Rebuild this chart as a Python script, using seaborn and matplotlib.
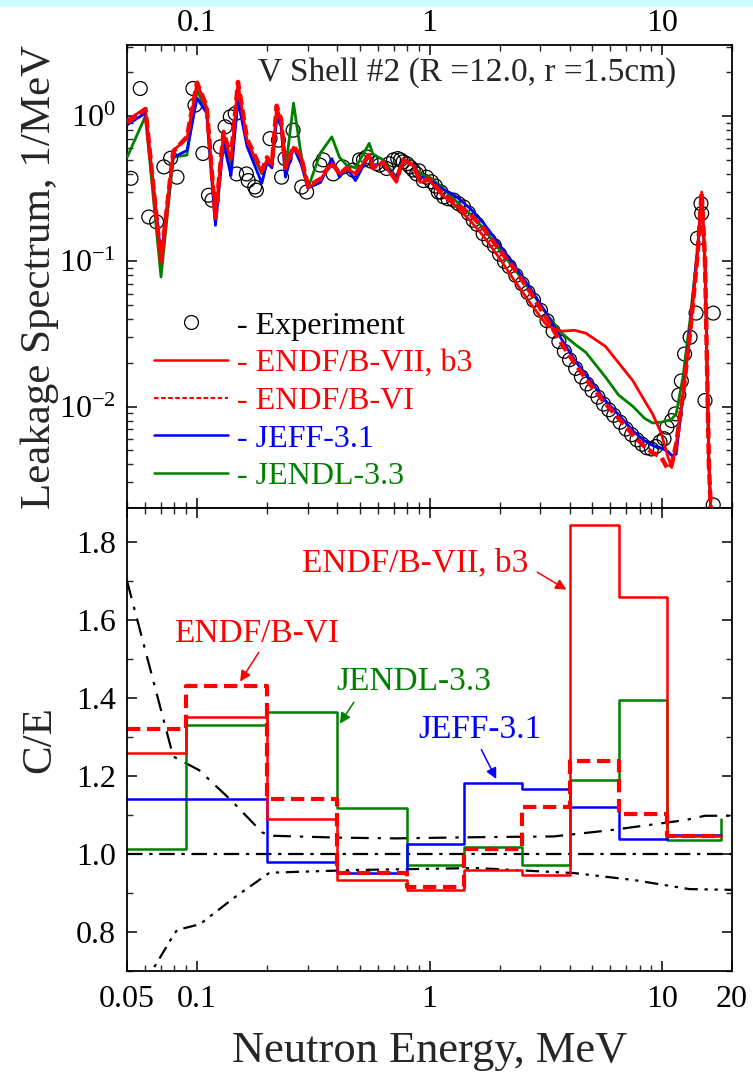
import numpy as np
import pandas as pd
import seaborn as sns
import matplotlib.pyplot as plt
from matplotlib.lines import Line2D
from matplotlib.patches import Rectangle
from matplotlib.ticker import LogLocator, NullFormatter, FixedLocator, MultipleLocator

# ---- leakage spectrum (top) ----
exp_e = [0.052, 0.057, 0.062, 0.067, 0.072, 0.077, 0.082, 0.096, 0.098, 0.106,
         0.112, 0.116, 0.126, 0.132, 0.139, 0.146, 0.148, 0.163, 0.166, 0.177,
         0.180, 0.206, 0.224, 0.231, 0.239, 0.259, 0.282, 0.296, 0.338, 0.349,
         0.385, 0.424, 0.469, 0.50, 0.52, 0.536, 0.56, 0.59, 0.61, 0.653, 0.67,
         0.70, 0.73, 0.75, 0.77, 0.80, 0.825, 0.85, 0.88, 0.90, 0.94, 0.97,
         1.02, 1.06, 1.09, 1.12, 1.15, 1.2, 1.27, 1.33, 1.40, 1.47, 1.54, 1.6,
         1.70, 1.8, 1.9, 2.0, 2.1, 2.2, 2.35, 2.5, 2.65, 2.8, 3.0, 3.2, 3.4,
         3.6, 3.8, 4.0, 4.25, 4.5, 4.75, 5.0, 5.3, 5.6, 5.9, 6.2, 6.6, 7.0,
         7.4, 7.8, 8.2, 8.6, 9.0, 9.4, 9.8, 10.2, 10.5, 11.0, 11.4, 11.8,
         12.1, 12.5, 13.2, 14.0, 14.2, 14.7, 14.8, 15.3, 16.6, 16.6]
exp_v = [0.373, 1.55, 0.202, 0.187, 0.447, 0.513, 0.38, 1.55, 1.19, 0.553,
         0.285, 0.264, 0.614, 0.844, 0.99, 1.04, 0.40, 0.40, 0.36, 0.325,
         0.309, 0.70, 0.683, 0.38, 0.51, 0.80, 0.325, 0.30, 0.46, 0.50,
         0.40, 0.447, 0.425, 0.50, 0.50, 0.524, 0.49, 0.472, 0.46, 0.436, 0.47,
         0.50, 0.51, 0.50, 0.485, 0.47, 0.447, 0.425, 0.40, 0.42, 0.36, 0.38,
         0.353, 0.33, 0.30, 0.30, 0.278, 0.27, 0.264, 0.25, 0.237, 0.215, 0.192, 0.18,
         0.155, 0.14, 0.128, 0.112, 0.10, 0.092, 0.08, 0.07, 0.061, 0.054, 0.046, 0.039, 0.033,
         0.028, 0.024, 0.021, 0.0183, 0.016, 0.0143, 0.0129, 0.0116, 0.0104, 0.0095, 0.0087, 0.0078, 0.0070,
         0.0064, 0.0059, 0.0055, 0.0052, 0.0051, 0.0053, 0.0057, 0.0060, 0.0072, 0.0080, 0.0089, 0.012,
         0.015, 0.023, 0.030, 0.044, 0.144, 0.25, 0.214, 0.011, 0.044, 0.0021]

calc_e = [0.05, 0.060, 0.070, 0.079, 0.0905, 0.100, 0.110, 0.120, 0.130, 0.140,
          0.150, 0.164, 0.190, 0.200, 0.210, 0.220, 0.230, 0.240, 0.260, 0.280,
          0.300, 0.340, 0.380, 0.410, 0.440, 0.480, 0.550, 0.570, 0.630, 0.720,
          0.770, 0.850, 0.910, 1.00, 1.12, 1.3, 1.5, 1.7, 2.0, 2.3, 2.7, 3.2,
          3.7, 4.2, 4.7, 5.7, 6.5, 7.5, 8.4, 9.1, 9.9, 10.6, 11.0, 11.5, 12.3,
          13.2, 14.2, 14.8, 15.3, 15.9, 16.5]
endf7 = [0.94, 1.13, 0.10, 0.58, 0.70, 1.69, 1.15, 0.21, 0.76, 0.50,
         1.69, 0.68, 0.41, 0.50, 0.46, 1.15, 0.94, 0.44, 0.61, 0.52,
         0.32, 0.37, 0.47, 0.40, 0.44, 0.40, 0.54, 0.44, 0.48, 0.35,
         0.50, 0.46, 0.35, 0.36, 0.29, 0.24, 0.19, 0.15, 0.105, 0.075, 0.052, 0.036,
         0.033, 0.0335, 0.032, 0.026, 0.020, 0.015, 0.011, 0.0089, 0.0066, 0.0045, 0.0038, 0.0055, 0.012,
         0.032, 0.11, 0.30, 0.10, 0.004, 0.001]
endf6 = [0.90, 1.12, 0.10, 0.57, 0.72, 1.70, 1.17, 0.20, 0.78, 0.52,
         1.72, 0.70, 0.42, 0.52, 0.47, 1.18, 0.95, 0.44, 0.62, 0.53,
         0.33, 0.37, 0.48, 0.40, 0.44, 0.40, 0.54, 0.44, 0.48, 0.36,
         0.50, 0.46, 0.36, 0.37, 0.30, 0.25, 0.21, 0.17, 0.12, 0.09, 0.062, 0.040,
         0.027, 0.020, 0.0155, 0.0105, 0.0083, 0.0064, 0.0053, 0.0048, 0.0045, 0.0037, 0.0040, 0.0055, 0.012,
         0.032, 0.11, 0.30, 0.10, 0.004, 0.001]
jeff = [0.87, 1.05, 0.11, 0.52, 0.58, 1.33, 1.05, 0.177, 0.65, 0.39,
        1.29, 0.62, 0.345, 0.48, 0.44, 0.98, 0.85, 0.38, 0.61, 0.47,
        0.32, 0.35, 0.51, 0.38, 0.44, 0.36, 0.54, 0.46, 0.47, 0.38,
        0.50, 0.46, 0.38, 0.37, 0.32, 0.28, 0.23, 0.185, 0.13, 0.095, 0.066, 0.043,
        0.029, 0.021, 0.0165, 0.011, 0.0088, 0.0068, 0.0058, 0.0054, 0.0052, 0.0049, 0.0046, 0.0047, 0.012,
        0.035, 0.12, 0.27, 0.10, 0.004, 0.001]
jendl = [0.52, 1.00, 0.078, 0.52, 0.54, 1.50, 1.10, 0.19, 0.72, 0.45,
         1.40, 0.66, 0.40, 0.50, 0.47, 1.05, 0.90, 0.42, 1.23, 0.55,
         0.32, 0.56, 0.72, 0.52, 0.46, 0.44, 0.65, 0.55, 0.50, 0.38,
         0.50, 0.46, 0.40, 0.38, 0.33, 0.26, 0.21, 0.17, 0.12, 0.09, 0.064, 0.043,
         0.032, 0.027, 0.0236, 0.016, 0.012, 0.0100, 0.0083, 0.0077, 0.0078, 0.0080, 0.0082, 0.0089, 0.016,
         0.040, 0.12, 0.28, 0.10, 0.004, 0.001]

# ---- C/E ratios (bottom) ----
bin_edges = [0.05, 0.09, 0.2, 0.4, 0.8, 1.4, 2.5, 4.0, 6.5, 10.5, 18.0]
ce_endf7 = [1.26, 1.35, 1.09, 0.933, 0.908, 0.959, 0.946, 1.844, 1.659, 1.045]
ce_endf6 = [1.32, 1.43, 1.14, 0.952, 0.916, 1.012, 1.121, 1.239, 1.103, 1.045]
ce_jeff = [1.14, 1.14, 0.979, 0.95, 1.025, 1.183, 1.166, 1.121, 1.038, 1.049]
ce_jendl = [1.012, 1.331, 1.363, 1.117, 0.973, 1.019, 0.973, 1.19, 1.395, 1.036]
ce_jendl_end = 1.09

unc_up_e = [0.05, 0.079, 0.102, 0.14, 0.19, 0.205, 0.4, 0.72, 1.58, 3.42, 6.0, 12.6, 15.3, 20.0]
unc_up_v = [1.70, 1.25, 1.215, 1.138, 1.056, 1.047, 1.042, 1.04, 1.043, 1.045, 1.061, 1.087, 1.098, 1.098]
unc_lo_e = [0.058, 0.064, 0.077, 0.082, 0.103, 0.146, 0.205, 0.49, 1.58, 4.2, 7.6, 13.1, 20.0]
unc_lo_v = [0.64, 0.70, 0.78, 0.805, 0.82, 0.89, 0.952, 0.959, 0.964, 0.951, 0.933, 0.91, 0.908]

sns.set_style("ticks")
plt.rcParams['font.family'] = ['Liberation Serif', 'DejaVu Serif']
plt.rcParams['mathtext.fontset'] = 'custom'
plt.rcParams['mathtext.rm'] = 'Liberation Serif'
plt.rcParams['mathtext.it'] = 'Liberation Serif:italic'

RED, BLUE, GREEN = '#ff0000', '#0000ff', '#008000'
FS_TICK, FS_LAB, FS_TXT = 23, 31, 24

fig = plt.figure(figsize=(7.53, 10.74), dpi=100)
fig.patches.append(Rectangle((0, 1 - 6 / 1074), 1, 6 / 1074, transform=fig.transFigure,
                             color='#ccffff', zorder=0))
ax1 = fig.add_axes([0.1687, 0.5270, 0.8035, 0.4311])
ax2 = fig.add_axes([0.1687, 0.0959, 0.8035, 0.4311])

# top panel
sns.scatterplot(x=exp_e, y=exp_v, ax=ax1, marker='o', s=100, facecolor='none',
                edgecolor='k', linewidth=0.9, zorder=2)
sns.lineplot(x=calc_e, y=jendl, ax=ax1, color=GREEN, lw=2.0, sort=False, estimator=None, zorder=3)
sns.lineplot(x=calc_e, y=jeff, ax=ax1, color=BLUE, lw=2.0, sort=False, estimator=None, zorder=4)
sns.lineplot(x=calc_e, y=endf7, ax=ax1, color=RED, lw=2.0, sort=False, estimator=None, zorder=5)
sns.lineplot(x=calc_e, y=endf6, ax=ax1, color=RED, lw=3.2, sort=False, estimator=None, zorder=6,
             linestyle=(0, (2.4, 1.1)))

ax1.set_xscale('log')
ax1.set_yscale('log')
ax1.set_xlim(0.05, 20)
ax1.set_ylim(0.002, 3.09)
ax1.set_xticks([0.1, 1, 10])
ax1.set_xticklabels(['0.1', '1', '10'])
ax1.xaxis.set_minor_locator(LogLocator(base=10, subs=np.arange(2, 10)))
ax1.xaxis.set_minor_formatter(NullFormatter())
ax1.set_yticks([1, 0.1, 0.01])
ax1.set_yticklabels([r'$\mathregular{10^{0}}$', r'$\mathregular{10^{-1}}$', r'$\mathregular{10^{-2}}$'])
ax1.yaxis.set_minor_locator(LogLocator(base=10, subs=np.arange(2, 10)))
ax1.yaxis.set_minor_formatter(NullFormatter())
ax1.tick_params(axis='x', which='both', direction='in', top=True, bottom=True,
                labeltop=True, labelbottom=False)
ax1.tick_params(axis='y', which='both', direction='in', left=True, right=True)
ax1.set_ylabel('Leakage Spectrum, 1/MeV', fontsize=FS_LAB)
ax1.yaxis.set_label_coords(-0.112, 0.5)
ax1.text(0.562, 0.94, 'V Shell #2 (R =12.0, r =1.5cm)', transform=ax1.transAxes,
         ha='center', va='center', fontsize=FS_TXT)

handles = [Line2D([], [], ls='none', marker='o', mfc='none', mec='k', ms=10, mew=0.9),
           Line2D([], [], color=RED, lw=1.8),
           Line2D([], [], color=RED, lw=1.5, ls=(0, (2.2, 1.2))),
           Line2D([], [], color=BLUE, lw=1.8),
           Line2D([], [], color=GREEN, lw=1.8)]
labels = ['- Experiment', '- ENDF/B-VII, b3', '- ENDF/B-VI', '- JEFF-3.1', '- JENDL-3.3']
leg = ax1.legend(handles, labels, loc='upper left', bbox_to_anchor=(0.045, 0.425),
                 frameon=False, fontsize=FS_TXT - 1, handlelength=2.3, handletextpad=0.3,
                 labelspacing=0.26, borderpad=0, borderaxespad=0)
for t, c in zip(leg.get_texts(), ['k', RED, RED, BLUE, GREEN]):
    t.set_color(c)

# bottom panel
ax2.axhline(1.0, color='k', lw=1.6, ls=(0, (7, 3, 1.5, 3)))
sns.lineplot(x=unc_up_e, y=unc_up_v, ax=ax2, color='k', lw=1.6, sort=False, estimator=None,
             linestyle=(0, (8, 4, 1.5, 4)))
sns.lineplot(x=unc_lo_e, y=unc_lo_v, ax=ax2, color='k', lw=1.6, sort=False, estimator=None,
             linestyle=(0, (6, 3, 1.5, 3, 1.5, 3)))

steps = pd.DataFrame({
    'e': bin_edges,
    'jendl': ce_jendl + [ce_jendl_end],
    'jeff': ce_jeff + [ce_jeff[-1]],
    'endf7': ce_endf7 + [ce_endf7[-1]],
    'endf6': ce_endf6 + [ce_endf6[-1]],
})
sns.lineplot(data=steps, x='e', y='jendl', ax=ax2, color=GREEN, lw=1.8, drawstyle='steps-post',
             sort=False, estimator=None)
sns.lineplot(data=steps, x='e', y='jeff', ax=ax2, color=BLUE, lw=1.8, drawstyle='steps-post',
             sort=False, estimator=None)
sns.lineplot(data=steps, x='e', y='endf7', ax=ax2, color=RED, lw=1.8, drawstyle='steps-post',
             sort=False, estimator=None)
sns.lineplot(data=steps, x='e', y='endf6', ax=ax2, color=RED, lw=3.0, drawstyle='steps-post',
             sort=False, estimator=None, linestyle=(0, (3.2, 1.6)))

ax2.set_xscale('log')
ax2.set_xlim(0.05, 20)
ax2.set_ylim(0.7, 1.887)
ax2.xaxis.set_major_locator(FixedLocator([0.05, 0.1, 1, 10, 20]))
ax2.set_xticklabels(['0.05', '0.1', '1', '10', '20'])
ax2.xaxis.set_minor_locator(LogLocator(base=10, subs=np.arange(2, 10)))
ax2.xaxis.set_minor_formatter(NullFormatter())
ax2.yaxis.set_major_locator(MultipleLocator(0.2))
ax2.yaxis.set_minor_locator(MultipleLocator(0.1))
ax2.yaxis.set_major_formatter(plt.FuncFormatter(lambda v, p: f'{v:.1f}'))
ax2.tick_params(axis='x', which='both', direction='in', top=True, bottom=True)
ax2.tick_params(axis='y', which='both', direction='in', left=True, right=True)
ax2.set_ylabel('C/E', fontsize=FS_LAB)
ax2.yaxis.set_label_coords(-0.112, 0.5)
ax2.set_xlabel('Neutron Energy, MeV', fontsize=FS_LAB + 1)
ax2.xaxis.set_label_coords(0.5, -0.13)

ann = [('ENDF/B-VII, b3', RED, (0.865, 1.746), (2.84, 1.726), (3.97, 1.674)),
       ('ENDF/B-VI', RED, (0.18, 1.567), (0.187, 1.523), (0.151, 1.436)),
       ('JENDL-3.3', GREEN, (0.855, 1.441), (0.48, 1.395), (0.405, 1.328)),
       ('JEFF-3.1', BLUE, (1.65, 1.318), (1.65, 1.274), (1.96, 1.186))]
for txt, c, tpos, tail, head in ann:
    ax2.text(tpos[0], tpos[1], txt, color=c, fontsize=FS_TXT, ha='center', va='center')
    ax2.annotate('', xy=head, xytext=tail,
                 arrowprops=dict(arrowstyle='-|>', color=c, lw=1.1, mutation_scale=16))

for ax in (ax1, ax2):
    ax.tick_params(which='major', length=7, width=1.1, labelsize=FS_TICK, colors='k')
    ax.tick_params(which='minor', length=4, width=1.0)
    for s in ax.spines.values():
        s.set_linewidth(1.3)
        s.set_color('k')
        s.set_visible(True)
    ax.set_facecolor('white')
ax1.tick_params(axis='x', which='major', pad=5)
ax1.tick_params(axis='y', which='major', pad=8)
ax2.tick_params(axis='y', which='major', pad=8)
ax2.tick_params(axis='x', which='major', pad=10)

fig.savefig('out.png', dpi=100)
